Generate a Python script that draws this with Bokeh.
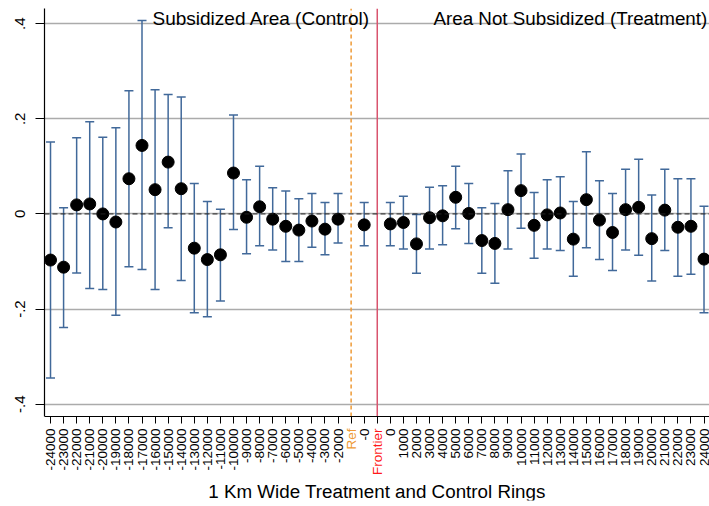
import math
from bokeh.plotting import figure
from bokeh.models import (ColumnDataSource, Range1d, FixedTicker, Span, Label,
                          Whisker, TeeHead)
from bokeh.embed import file_html
from bokeh.resources import INLINE

categories = ["-24000", "-23000", "-22000", "-21000", "-20000", "-19000", "-18000",
              "-17000", "-16000", "-15000", "-14000", "-13000", "-12000", "-11000",
              "-10000", "-9000", "-8000", "-7000", "-6000", "-5000", "-4000", "-3000",
              "-2000", "Ref", "-0", "Frontier", "0", "1000", "2000", "3000", "4000",
              "5000", "6000", "7000", "8000", "9000", "10000", "11000", "12000",
              "13000", "14000", "15000", "16000", "17000", "18000", "19000", "20000",
              "21000", "22000", "23000", "24000"]

coef = [-0.097, -0.112, 0.019, 0.021, 0.000, -0.017, 0.074, 0.144, 0.051, 0.109,
        0.053, -0.072, -0.096, -0.086, 0.086, -0.007, 0.015, -0.011, -0.026, -0.034,
        -0.015, -0.032, -0.011, None, -0.023, None, -0.021, -0.018, -0.063, -0.008,
        -0.004, 0.035, 0.001, -0.056, -0.062, 0.009, 0.049, -0.024, -0.002, 0.002,
        -0.053, 0.030, -0.013, -0.039, 0.009, 0.014, -0.052, 0.008, -0.028, -0.026,
        -0.095]

lower = [-0.345, -0.239, -0.124, -0.157, -0.159, -0.213, -0.111, -0.117, -0.159, -0.029,
         -0.140, -0.208, -0.216, -0.183, -0.033, -0.084, -0.067, -0.076, -0.100, -0.100,
         -0.070, -0.086, -0.061, None, -0.067, None, -0.067, -0.074, -0.125, -0.074,
         -0.065, -0.031, -0.062, -0.125, -0.146, -0.074, -0.030, -0.093, -0.074, -0.077,
         -0.131, -0.071, -0.096, -0.119, -0.076, -0.087, -0.141, -0.077, -0.131, -0.127,
         -0.208]

upper = [0.151, 0.013, 0.160, 0.194, 0.161, 0.181, 0.259, 0.407, 0.261, 0.251,
         0.246, 0.064, 0.026, 0.010, 0.208, 0.072, 0.100, 0.055, 0.048, 0.032,
         0.043, 0.024, 0.043, None, 0.024, None, 0.024, 0.037, -0.001, 0.056,
         0.059, 0.100, 0.064, 0.013, 0.022, 0.091, 0.126, 0.045, 0.072, 0.078,
         0.026, 0.131, 0.070, 0.043, 0.094, 0.115, 0.040, 0.094, 0.074, 0.074,
         0.016]

y_ticks = [-0.4, -0.2, 0.0, 0.2, 0.4]
y_tick_labels = ["-.4", "-.2", "0", ".2", ".4"]

left_title = "Subsidized Area (Control)"
right_title = "Area Not Subsidized (Treatment)"
x_title = "1 Km Wide Treatment and Control Rings"

FONT = "Liberation Sans"
BAR_COLOR = "#41699A"
REF_COLOR = "#EE9A36"
FRONT_LINE = "#D9546E"
FRONT_TEXT = "#FF1A1A"

idx = list(range(len(categories)))
ref_i = categories.index("Ref")
front_i = categories.index("Frontier")

keep = [i for i in idx if coef[i] is not None]
src = ColumnDataSource(dict(
    x=[i for i in keep],
    coef=[coef[i] for i in keep],
    lower=[lower[i] for i in keep],
    upper=[upper[i] for i in keep],
))

# visible plot region (axis line at AX, top at Y1); frame extends below the axis
AX, Y1 = -0.426, 0.432
PX_PER_UNIT = 408 / (Y1 - AX)
Y0 = AX - 84 / PX_PER_UNIT

p = figure(width=709, height=506, output_backend="svg", toolbar_location=None,
           x_range=Range1d(-0.46, len(categories) - 0.58),
           y_range=Range1d(Y0, Y1),
           min_border_left=44, min_border_right=0, min_border_top=8,
           min_border_bottom=6)
p.outline_line_color = None
p.background_fill_color = "white"
p.border_fill_color = "white"

# grid
p.xgrid.visible = False
p.ygrid.ticker = FixedTicker(ticks=y_ticks)
p.ygrid.grid_line_color = "#ABABAB"
p.ygrid.grid_line_width = 1.5

# zero line
p.add_layout(Span(location=0, dimension="width", line_color="#222222",
                  line_dash="5 3", line_width=1))
# Ref & Frontier lines (from the axis up to the top)
p.segment(x0=[ref_i], y0=[AX], x1=[ref_i], y1=[Y1], line_color=REF_COLOR,
          line_dash="4 3", line_width=1.5)
p.segment(x0=[front_i], y0=[AX], x1=[front_i], y1=[Y1], line_color=FRONT_LINE,
          line_width=1.5)

# error bars
w = Whisker(base="x", lower="lower", upper="upper", source=src,
            line_color=BAR_COLOR, line_width=1.5,
            upper_head=TeeHead(size=9, line_color=BAR_COLOR, line_width=1.5),
            lower_head=TeeHead(size=9, line_color=BAR_COLOR, line_width=1.5))
p.add_layout(w)

p.scatter("x", "coef", source=src, size=12, fill_color="black", line_color="black")

# axes
xa = p.xaxis[0]
xa.fixed_location = AX
xa.ticker = FixedTicker(ticks=idx)
overrides = {i: c for i, c in enumerate(categories)}
overrides[ref_i] = ""
overrides[front_i] = ""
xa.major_label_overrides = overrides
xa.major_label_orientation = math.pi / 2
xa.major_label_text_font = FONT
xa.major_label_text_font_size = "13.5px"
xa.major_label_text_color = "black"
xa.major_label_standoff = 5
xa.major_tick_out = 7
xa.major_tick_in = 0
xa.minor_tick_out = 0
xa.minor_tick_in = 0
xa.axis_line_color = "black"
xa.axis_line_width = 1.2
xa.major_tick_line_color = "black"
xa.axis_label = x_title
xa.axis_label_text_font = FONT
xa.axis_label_text_font_size = "18.8px"
xa.axis_label_text_font_style = "normal"
xa.axis_label_text_color = "black"
xa.axis_label_standoff = 7

ya = p.yaxis[0]
ya.bounds = (AX, Y1)
ya.ticker = FixedTicker(ticks=y_ticks)
ya.major_label_overrides = {t: l for t, l in zip(y_ticks, y_tick_labels)}
ya.major_label_orientation = "vertical"
ya.major_label_text_font = FONT
ya.major_label_text_font_size = "15px"
ya.major_label_text_color = "black"
ya.major_label_standoff = 10
ya.major_tick_out = 9
ya.major_tick_in = 0
ya.minor_tick_out = 0
ya.minor_tick_in = 0
ya.axis_line_color = "black"
ya.axis_line_width = 1.2
ya.major_tick_line_color = "black"

# coloured category labels (placed just below the axis, like the tick labels)
label_y = AX - 12 / PX_PER_UNIT
p.add_layout(Label(x=ref_i, y=label_y, text="Ref", angle=math.pi / 2,
                   text_align="right", text_baseline="middle", text_font=FONT,
                   text_font_size="13.5px", text_color=REF_COLOR))
p.add_layout(Label(x=front_i, y=label_y, text="Frontier", angle=math.pi / 2,
                   text_align="right", text_baseline="middle", text_font=FONT,
                   text_font_size="13.5px", text_color=FRONT_TEXT))

# region titles
p.add_layout(Label(x=front_i - 0.55, y=0.41, text=left_title, text_align="right",
                   text_baseline="alphabetic", text_font=FONT, text_font_size="19px",
                   text_color="black"))
p.add_layout(Label(x=len(categories) - 0.75, y=0.41, text=right_title, text_align="right",
                   text_baseline="alphabetic", text_font=FONT, text_font_size="18.8px",
                   text_color="black"))

open("out.html", "w").write(file_html(p, INLINE))
